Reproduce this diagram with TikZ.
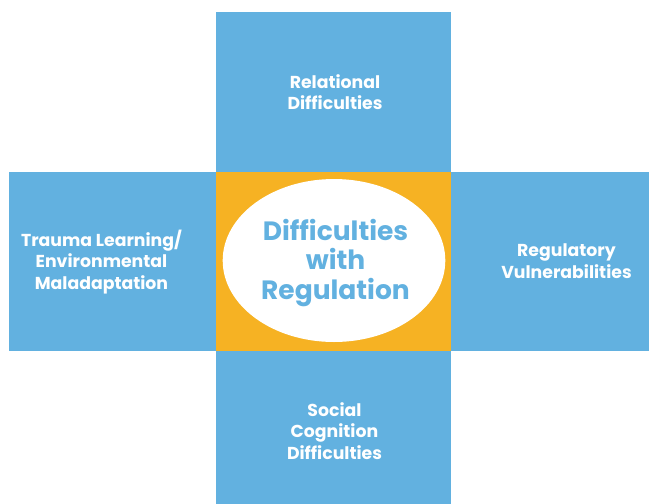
\documentclass[tikz,border=0pt]{standalone}
\usepackage{fontspec}
\setmainfont{Poppins}
\usetikzlibrary{positioning}
\definecolor{boxblue}{HTML}{62B1E0}
\definecolor{coreorange}{HTML}{F6B223}
\tikzset{
  panel/.style={fill=boxblue, draw=none},
  lbl/.style={text=white, font=\fontsize{17.3}{21.5}\selectfont\bfseries, align=center, inner sep=0pt},
  corelbl/.style={text=boxblue, font=\fontsize{26.5}{29.5}\selectfont\bfseries, align=center, inner sep=0pt}
}
\begin{document}
\begin{tikzpicture}[x=1pt,y=-1pt]
\useasboundingbox (0,0) rectangle (649,504);
\fill[white] (0,0) rectangle (649,504);
\fill[panel] (216,12) rectangle (451,172);
\fill[panel] (9,172) rectangle (216,351);
\fill[panel] (451,172) rectangle (649,351);
\fill[panel] (216,351) rectangle (451,504);
\fill[coreorange] (216,172) rectangle (451,351);
\fill[white] (334,260.5) ellipse [x radius=111.3, y radius=81.5];
\node[lbl] (top) at (335,92) {Relational\\Difficulties};
\node[lbl] (left) at (101.5,262) {Trauma Learning/\\Environmental\\Maladaptation};
\node[lbl] (right) at (566.5,261) {Regulatory\\Vulnerabilities};
\node[lbl] (bottom) at (334.5,431) {Social\\Cognition\\Difficulties};
\node[corelbl] (core) at (335.5,263) {Difficulties\\with\\Regulation};
\end{tikzpicture}
\end{document}
